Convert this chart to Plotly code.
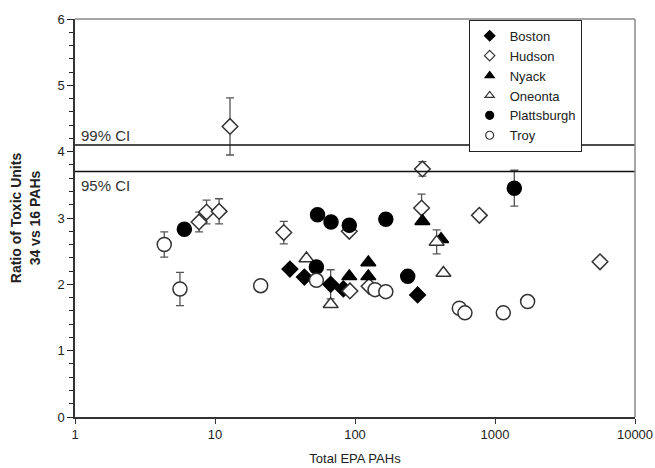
import plotly.graph_objects as go

# ---- data ----
boston_x = [34.3, 43.5, 67, 82.6, 280]
boston_y = [2.23, 2.11, 2.00, 1.93, 1.84]
boston_err = [0, 0, 0.22, 0, 0]

hudson_x = [12.8, 7.7, 8.7, 10.7, 31, 91, 92, 126, 299, 303, 773, 5623]
hudson_y = [4.38, 2.94, 3.09, 3.10, 2.78, 2.80, 1.90, 1.97, 3.15, 3.74, 3.04, 2.34]
hudson_err = [0.43, 0.15, 0.18, 0.19, 0.17, 0, 0, 0, 0.21, 0.11, 0, 0]

nyack_x = [91, 124.5, 124.5, 303, 412]
nyack_y = [2.12, 2.33, 2.12, 2.95, 2.68]
nyack_err = [0, 0, 0, 0, 0]

oneonta_x = [45, 67, 383, 428]
oneonta_y = [2.39, 1.70, 2.64, 2.17]
oneonta_err = [0, 0, 0.18, 0]

platt_x = [6.04, 54, 67.4, 91, 166, 53, 238, 1374]
platt_y = [2.83, 3.05, 2.94, 2.89, 2.98, 2.26, 2.12, 3.45]
platt_err = [0, 0, 0, 0.07, 0, 0, 0, 0.27]

troy_x = [4.34, 5.62, 21.2, 53, 139, 166, 556, 610, 1146, 1710]
troy_y = [2.60, 1.93, 1.98, 2.06, 1.92, 1.89, 1.64, 1.57, 1.57, 1.74]
troy_err = [0.19, 0.25, 0, 0, 0, 0, 0, 0, 0, 0]

ci_levels = [4.1, 3.7]
ci_labels = ["99% CI", "95% CI"]

x_tickvals = [1, 10, 100, 1000, 10000]
x_ticktext = ["1", "10", "100", "1000", "10000"]

# ---- styling ----
FONT = "Liberation Sans, Arial, sans-serif"
TXT = "#222222"
ERRC = "#555555"

series = [
    ("Boston", boston_x, boston_y, boston_err, "diamond", "black", "black", 12),
    ("Hudson", hudson_x, hudson_y, hudson_err, "diamond", "white", "#333333", 12),
    ("Nyack", nyack_x, nyack_y, nyack_err, "triangle-up", "black", "black", 13),
    ("Oneonta", oneonta_x, oneonta_y, oneonta_err, "triangle-up", "white", "#333333", 13),
    ("Plattsburgh", platt_x, platt_y, platt_err, "circle", "black", "black", 14),
    ("Troy", troy_x, troy_y, troy_err, "circle", "white", "#333333", 14),
]

fig = go.Figure()

for name, xs, ys, errs, sym, fill, line, size in series:
    err_arr = [e if e > 0 else float("nan") for e in errs]
    fig.add_trace(go.Scatter(
        x=xs, y=ys, mode="markers", name=name, showlegend=False,
        marker=dict(symbol=sym, color=fill, size=size, line=dict(color=line, width=1.5)),
        error_y=dict(type="data", array=err_arr, visible=True, color=ERRC,
                     thickness=1.3, width=4),
    ))

# legend-only traces with small markers
for name, xs, ys, errs, sym, fill, line, size in series:
    fig.add_trace(go.Scatter(
        x=[None], y=[None], mode="markers", name=name, showlegend=True,
        marker=dict(symbol=sym, color=fill, size=8, line=dict(color=line, width=1.2)),
    ))

shapes = []
for lvl in ci_levels:
    shapes.append(dict(type="line", xref="paper", yref="y", x0=0, x1=1, y0=lvl, y1=lvl,
                       line=dict(color="#111111", width=1.5)))
# grey frame (top and right)
shapes.append(dict(type="line", xref="paper", yref="paper", x0=0, x1=1, y0=1, y1=1,
                   line=dict(color="#888888", width=1.5)))
shapes.append(dict(type="line", xref="paper", yref="paper", x0=1, x1=1, y0=0, y1=1,
                   line=dict(color="#888888", width=1.5)))

annotations = []
for lvl, lab, pos in zip(ci_levels, ci_labels, ["bottom", "top"]):
    annotations.append(dict(
        x=0.008, xref="paper", y=lvl, yref="y", text=lab, showarrow=False,
        xanchor="left", yanchor=pos, yshift=(-1 if pos == "bottom" else -3),
        font=dict(family=FONT, size=15, color="#333333"),
    ))

fig.update_layout(
    width=655, height=468,
    margin=dict(l=75, r=20, t=19, b=51),
    paper_bgcolor="white", plot_bgcolor="white",
    font=dict(family=FONT, size=13, color=TXT),
    shapes=shapes, annotations=annotations,
    legend=dict(
        x=0.703, y=0.998, xanchor="left", yanchor="top",
        bgcolor="white", bordercolor="#222222", borderwidth=1,
        font=dict(family=FONT, size=13, color=TXT),
        itemwidth=30, tracegroupgap=0,
    ),
    xaxis=dict(
        type="log", range=[0, 4], automargin=False,
        tickvals=x_tickvals, ticktext=x_ticktext,
        showgrid=False, zeroline=False,
        showline=True, linecolor="#333333", linewidth=1.5,
        ticks="outside", ticklen=5, tickcolor="#333333", tickwidth=1.2,
        tickfont=dict(family=FONT, size=13, color=TXT),
        title=dict(text="Total EPA PAHs", font=dict(family=FONT, size=13, color=TXT), standoff=13),
    ),
    yaxis=dict(
        range=[0, 6], dtick=1, tick0=0, automargin=False,
        showgrid=False, zeroline=False,
        showline=True, linecolor="#333333", linewidth=1.5,
        ticks="outside", ticklen=6, tickcolor="#222222", tickwidth=1.2,
        minor=dict(dtick=0.2, ticks="outside", ticklen=4, tickcolor="#222222", tickwidth=1.2, showgrid=False),
        tickfont=dict(family=FONT, size=13, color=TXT),
        title=dict(text="<b>Ratio of Toxic Units<br>34 vs 16 PAHs</b>",
                   font=dict(family=FONT, size=14, color=TXT), standoff=14),
    ),
)

# remove the page's default 8px body margin so the 655x468 figure fills the window
fig.write_html(
    "out.html",
    config={"displayModeBar": False},
    post_script="document.body.style.margin='0';document.body.style.overflow='hidden';",
)
